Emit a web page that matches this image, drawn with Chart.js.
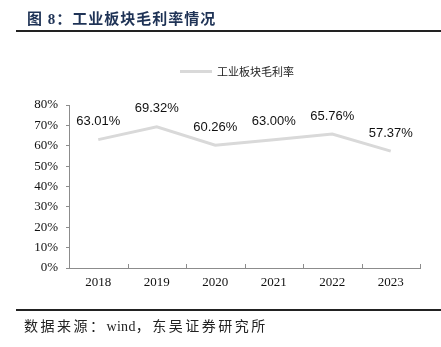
<!DOCTYPE html>
<html>
<head>
<meta charset="utf-8">
<script src="https://cdn.jsdelivr.net/npm/chart.js@4"></script>
<style>
  body { margin: 0; background: #fff; }
  .page { position: relative; width: 441px; height: 347px; overflow: hidden; }
  .title {
    position: absolute; left: 27px; top: 7px;
    font: bold 15px "Liberation Serif", "Noto Sans CJK SC", serif;
    letter-spacing: 1px; color: #1f3356; white-space: nowrap;
  }
  .rule { position: absolute; left: 16px; right: 0; height: 2px; background: #222; }
  .legend {
    position: absolute; left: 180px; top: 63px; height: 16px;
    display: flex; align-items: center;
    font: 11px "Noto Sans CJK SC", serif; color: #222;
  }
  .legend i { display: inline-block; width: 32px; height: 3px; background: #d9d9d9; margin-right: 5px; }
  .source {
    position: absolute; left: 24px; top: 315px;
    font: 14px "Liberation Serif", "Noto Sans CJK SC", serif;
    letter-spacing: 2.5px; color: #222; white-space: nowrap;
  }
  .source span { letter-spacing: 0.3px; }
  canvas { position: absolute; left: 0; top: 0; }
</style>
</head>
<body>
<div class="page">
  <canvas id="marginChart" width="441" height="347"></canvas>
  <div class="title">图 8：工业板块毛利率情况</div>
  <div class="rule" style="top:30px"></div>
  <div class="legend"><i></i>工业板块毛利率</div>
  <div class="rule" style="top:309px"></div>
  <div class="source">数据来源：<span>wind</span>，东吴证券研究所</div>
</div>
<script>
const years = ["2018", "2019", "2020", "2021", "2022", "2023"];
const grossMargin = [63.01, 69.32, 60.26, 63.0, 65.76, 57.37];
const yTicks = [0, 10, 20, 30, 40, 50, 60, 70, 80];

const serif = "'Liberation Serif', 'Times New Roman', serif";
const axisColor = "#8c8c8c";

// value labels above each point + short upward ticks between categories
const extras = {
  id: "extras",
  afterDatasetsDraw(chart) {
    const ctx = chart.ctx;
    const meta = chart.getDatasetMeta(0);
    ctx.save();
    ctx.font = "13px 'Liberation Sans', Arial, sans-serif";
    ctx.fillStyle = "#111";
    ctx.textAlign = "center";
    ctx.textBaseline = "middle";
    meta.data.forEach((pt, i) => {
      ctx.fillText(grossMargin[i].toFixed(2) + "%", pt.x, pt.y - 18);
    });

    const x = chart.scales.x;
    const bottom = chart.chartArea.bottom;
    const half = (x.getPixelForValue(1) - x.getPixelForValue(0)) / 2;
    ctx.strokeStyle = axisColor;
    ctx.lineWidth = 1;
    ctx.beginPath();
    years.forEach((_, i) => {
      const px = Math.round(x.getPixelForValue(i) + half) + 0.5;
      ctx.moveTo(px, bottom);
      ctx.lineTo(px, bottom - 4);
    });
    ctx.stroke();
    ctx.restore();
  },
};

new Chart(document.getElementById("marginChart"), {
  type: "line",
  data: {
    labels: years,
    datasets: [{
      label: "工业板块毛利率",
      data: grossMargin,
      borderColor: "#d9d9d9",
      backgroundColor: "#d9d9d9",
      borderWidth: 3,
      pointRadius: 0,
      tension: 0,
    }],
  },
  options: {
    responsive: false,
    animation: false,
    layout: { padding: { top: 105, right: 21, left: 0, bottom: 0 } },
    plugins: {
      legend: { display: false },
      tooltip: { enabled: false },
    },
    scales: {
      x: {
        offset: true,
        afterFit: (s) => { s.height = 79; },
        grid: { display: false, drawTicks: false },
        border: { display: true, color: axisColor },
        ticks: { padding: 7, color: "#111", font: { family: serif, size: 13 } },
      },
      y: {
        min: 0,
        max: 80,
        afterFit: (s) => { s.width = 69; },
        afterBuildTicks: (s) => { s.ticks = yTicks.map((v) => ({ value: v })); },
        grid: { drawOnChartArea: false, tickLength: 3, color: axisColor },
        border: { display: true, color: axisColor },
        ticks: {
          padding: 8,
          color: "#111",
          font: { family: serif, size: 13 },
          callback: (v) => v + "%",
        },
      },
    },
  },
  plugins: [extras],
});
</script>
</body>
</html>
